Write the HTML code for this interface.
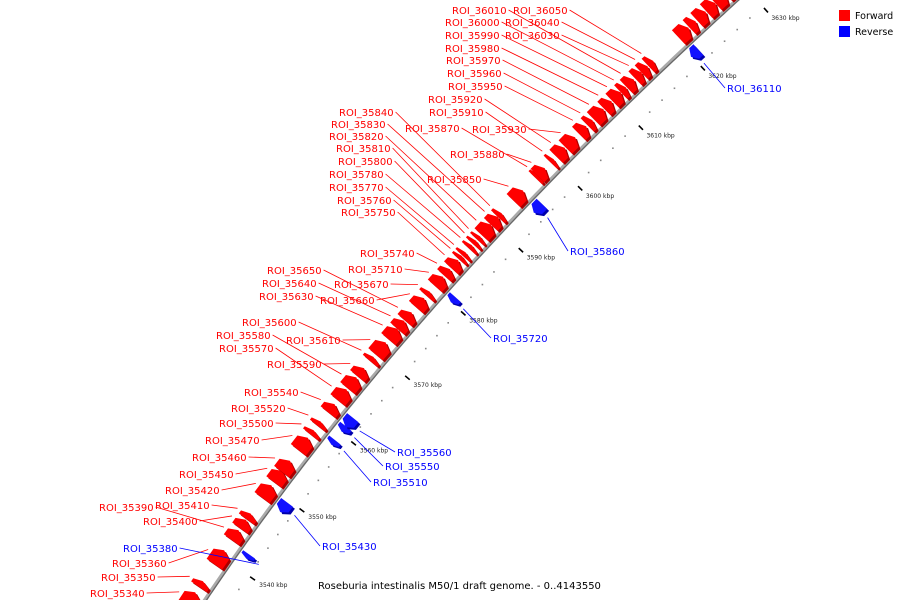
<!DOCTYPE html>
<html><head><meta charset="utf-8"><title>Genome map</title>
<style>
html,body{margin:0;padding:0;background:#fff;width:900px;height:600px;overflow:hidden;}
svg{display:block;overflow:hidden;font-family:"DejaVu Sans","Liberation Sans",sans-serif;}
</style></head>
<body>
<svg id="chart" width="900" height="600" viewBox="0 0 900 600" xmlns="http://www.w3.org/2000/svg">
  <g id="backbone-g"></g>
  <g id="ticks-g"></g>
  <g id="feat-g"></g>
  <g id="lab-g"></g>
  <text x="318" y="589" font-size="10" fill="#000">Roseburia intestinalis M50/1 draft genome. - 0..4143550</text>
  <g>
    <rect x="839" y="10" width="11" height="11" fill="#f00"/>
    <text x="855" y="19" font-size="9.5" fill="#000">Forward</text>
    <rect x="839" y="26" width="11" height="11" fill="#00f"/>
    <text x="855" y="35" font-size="9.5" fill="#000">Reverse</text>
  </g>
</svg>
<script>
// ---- data ----
var featNames = ["ROI_35340","ROI_35350","ROI_35360","ROI_35390","ROI_35400","ROI_35410","ROI_35420","ROI_35450","ROI_35460","ROI_35470","ROI_35500","ROI_35520","ROI_35540","ROI_35570","ROI_35580","ROI_35590","ROI_35600","ROI_35610","ROI_35630","ROI_35640","ROI_35650","ROI_35660","ROI_35670","ROI_35710","ROI_35740","ROI_35750","ROI_35760","ROI_35770","ROI_35780","ROI_35800","ROI_35810","ROI_35820","ROI_35830","ROI_35840","ROI_35850","ROI_35870","ROI_35880","ROI_35910","ROI_35920","ROI_35930","ROI_35950","ROI_35960","ROI_35970","ROI_35980","ROI_35990","ROI_36000","ROI_36010","ROI_36030","ROI_36040","ROI_36050","ROI_36060","ROI_36070","ROI_36080","ROI_36090","ROI_36100","ROI_36120",
"ROI_35380","ROI_35430","ROI_35510","ROI_35550","ROI_35560","ROI_35720","ROI_35860","ROI_36110"];
var featCenter = [3533.8,3536,3539.8,3543,3544.6,3545.7,3549.3,3551.5,3553,3556.3,3558.0,3559.3,3561.6,3563.6,3565.4,3567,3569,3570.6,3572.8,3574.2,3575.5,3577.6,3579,3580.9,3582.3,3583.6,3584.6,3585.2,3586.3,3587,3587.7,3589,3590.4,3591.3,3594.4,3597.5,3598.2,3600,3601.4,3603,3605,3606.2,3607.6,3609.1,3610.5,3611.6,3612.7,3614,3615,3616,3621.2,3622.6,3624,3625.5,3627,3628.6,
3541.8,3549,3558.6,3560.6,3561.6,3580.4,3594.9,3620.5];
var featLen = [2.0,0.8,2.0,1.4,1.2,0.8,1.8,1.6,1.6,1.8,0.6,0.6,1.2,1.6,1.6,1.2,0.6,1.8,1.6,1.2,1.2,1.4,0.6,1.4,1.0,1.2,0.5,0.5,0.5,0.5,0.5,1.6,1.2,0.6,1.6,0.5,1.2,0.5,1.4,1.6,1.2,0.8,1.6,1.2,1.4,0.8,1.2,1.0,1.0,0.8,1.6,1.0,1.4,1.4,1.6,1.6,
0.6,1.4,0.7,0.8,1.4,0.8,1.4,1.2];
var featStrand = [1,1,1,1,1,1,1,1,1,1,1,1,1,1,1,1,1,1,1,1,1,1,1,1,1,1,1,1,1,1,1,1,1,1,1,1,1,1,1,1,1,1,1,1,1,1,1,1,1,1,1,1,1,1,1,1,
-1,-1,-1,-1,-1,-1,-1,-1];
var tickLabels = ["3540 kbp","3550 kbp","3560 kbp","3570 kbp","3580 kbp","3590 kbp","3600 kbp","3610 kbp","3620 kbp","3630 kbp"];
var tickValues = [3540,3550,3560,3570,3580,3590,3600,3610,3620,3630];
var labelLayout = {
"ROI_36010":[452,10],"ROI_36050":[513,10],"ROI_36000":[445,22],"ROI_36040":[505,22],
"ROI_35990":[445,35],"ROI_36030":[505,35],"ROI_35980":[445,48],"ROI_35970":[446,60],
"ROI_35960":[447,73],"ROI_35950":[448,86],"ROI_35920":[428,99],"ROI_35910":[429,112],
"ROI_35840":[339,112],"ROI_35830":[331,124],"ROI_35870":[405,128],"ROI_35930":[472,129],
"ROI_35820":[329,136],"ROI_35810":[336,148],"ROI_35880":[450,154],"ROI_35800":[338,161],
"ROI_35780":[329,174],"ROI_35850":[427,179],"ROI_35770":[329,187],"ROI_35760":[337,200],
"ROI_35750":[341,212],"ROI_35860":[570,251],"ROI_35740":[360,253],"ROI_35710":[348,269],
"ROI_35650":[267,270],"ROI_35640":[262,283],"ROI_35670":[334,284],"ROI_35630":[259,296],
"ROI_35660":[320,300],"ROI_35600":[242,322],"ROI_35720":[493,338],"ROI_35580":[216,335],
"ROI_35610":[286,340],"ROI_35570":[219,348],"ROI_35590":[267,364],"ROI_35540":[244,392],
"ROI_35520":[231,408],"ROI_35500":[219,423],"ROI_35560":[397,452],"ROI_35470":[205,440],
"ROI_35460":[192,457],"ROI_35550":[385,466],"ROI_35450":[179,474],"ROI_35510":[373,482],
"ROI_35420":[165,490],"ROI_35410":[155,505],"ROI_35390":[99,507],"ROI_35400":[143,521],
"ROI_35430":[322,546],"ROI_35380":[123,548],"ROI_35360":[112,563],"ROI_35350":[101,577],
"ROI_35340":[90,593],"ROI_36110":[727,88]
};
// ---- axis functions ----
var NS="http://www.w3.org/2000/svg";
function yOf(p){var d=p-3540;return 563-6.95*d+0.0065*d*d;}
function xOfY(y){return 737-1.1*y+0.0003557*y*y;}
function B(p){var y=yOf(p);return [xOfY(y),y];}
function tangent(p){var a=B(p-0.05),b=B(p+0.05);var dx=b[0]-a[0],dy=b[1]-a[1];var l=Math.hypot(dx,dy);return [dx/l,dy/l];}
function nL(p){var t=tangent(p);return [t[1],-t[0]];}
function pt(p,h){var b=B(p),n=nL(p);return [b[0]+n[0]*h,b[1]+n[1]*h];}
function mk(tag,attrs,parent){var e=document.createElementNS(NS,tag);for(var k in attrs)e.setAttribute(k,attrs[k]);parent.appendChild(e);return e;}
function ptsStr(a){return a.map(function(q){return q[0].toFixed(1)+","+q[1].toFixed(1);}).join(" ");}

var bg=document.getElementById("backbone-g");
var bb=[];for(var p=3525;p<=3636;p+=0.5)bb.push(B(p));
var l1=mk("polyline",{points:ptsStr(bb),fill:"none",stroke:"#aaa","stroke-width":4},bg);


var bb2=[];for(var p=3525;p<=3636;p+=0.5)bb2.push(pt(p,-1.2));
var l2=mk("polyline",{points:ptsStr(bb2),fill:"none",stroke:"#666","stroke-width":1.2},bg);



var tg=document.getElementById("ticks-g");
for(var p=3530;p<=3634;p+=2){
  if(p%10===0)continue;
  var q=pt(p,-22);
  var dot=mk("rect",{x:q[0]-0.8,y:q[1]-0.8,width:1.6,height:1.6,fill:"#888"},tg);
  
  
}
for(var i=0;i<tickValues.length;i++){
  var v=tickValues[i];
  var a=pt(v,-24),b2=pt(v,-30);
  var tk=mk("line",{x1:a[0],y1:a[1],x2:b2[0],y2:b2[1],stroke:"#000","stroke-width":1.6},tg);
  
  
  var lp=pt(v,-35);
  var tl=mk("text",{x:lp[0],y:lp[1]+4,"font-size":6,fill:"#222"},tg);
  tl.textContent=tickLabels[i];
  
  
}

var fg=document.getElementById("feat-g"),lg=document.getElementById("lab-g");
for(var i=0;i<featNames.length;i++){
  var c=featCenter[i],L=featLen[i],s=featStrand[i];
  var st=c-L/2,en=c+L/2,head=Math.min(0.55,L*0.45);
  var h0=3*s,h1=22*s,hm=12.5*s,poly;
  if(s>0){poly=[pt(st,h0),pt(en-head,h0),pt(en,hm),pt(en-head,h1),pt(st,h1)];}
  else{poly=[pt(en,h0),pt(st+head,h0),pt(st,hm*0.85),pt(st+head,h1*0.8),pt(en,h1*0.8)];}
  var sh=poly.map(function(q){return [q[0]+2,q[1]+2];});
  var g=mk("g",{},fg);
  
  
  var ps=mk("polygon",{points:ptsStr(sh),fill:s>0?"#a00":"#00a"},g);
  
  
  var pm=mk("polygon",{points:ptsStr(poly),fill:s>0?"#f00":"#11f"},g);
  
  
  var lay=labelLayout[featNames[i]];
  if(!lay)continue;
  var col=s>0?"#f00":"#00f";
  var t=mk("text",{x:lay[0],y:lay[1]+4,"font-size":10,fill:col},lg);
  t.textContent=featNames[i];
  
  
  var w=t.getComputedTextLength?t.getComputedTextLength():55;
  if(!w)w=55;
  var anc=pt(c,s>0?26:-24);
  var sx=(anc[0]>lay[0]+w)?lay[0]+w+2:lay[0]-2;
  var ll=mk("line",{x1:sx,y1:lay[1],x2:anc[0],y2:anc[1],stroke:col,"stroke-width":0.8},lg);
  
  
}
</script>
</body></html>
